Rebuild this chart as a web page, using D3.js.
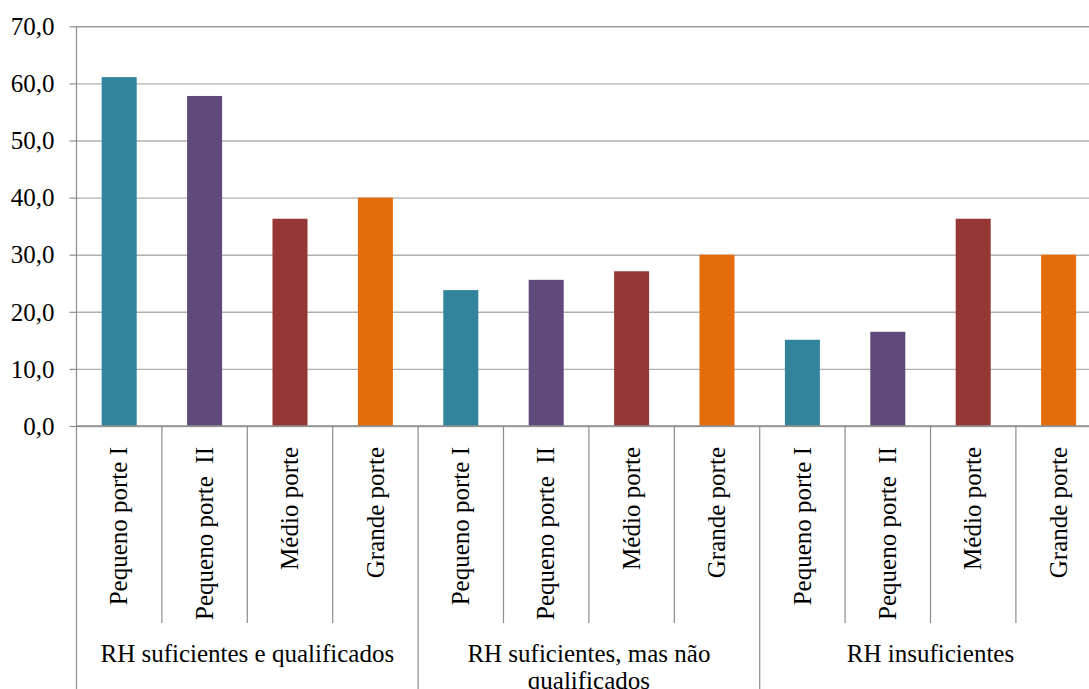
<!DOCTYPE html>
<html lang="pt">
<head>
<meta charset="utf-8">
<script src="https://cdn.jsdelivr.net/npm/d3@7"></script>
<style>
  html, body { margin: 0; padding: 0; background: #fff; }
  svg { display: block; font-family: "Liberation Serif", "Times New Roman", serif; }
  text { fill: #000; white-space: pre; }
</style>
</head>
<body>
<svg id="chart" width="1089" height="689"></svg>
<script>
// Situação dos recursos humanos por porte do município (%)
const groups = [
  "RH suficientes e qualificados",
  "RH suficientes, mas não qualificados",
  "RH insuficientes"
];
const sizes = ["Pequeno porte I", "Pequeno porte  II", "Médio porte", "Grande porte"];
const colors = ["#31849b", "#604a7b", "#953735", "#e46c0a"];

const suficientesQualificados    = [61.1, 57.8, 36.3, 40.0];
const suficientesNaoQualificados = [23.8, 25.6, 27.1, 30.0];
const insuficientes              = [15.1, 16.5, 36.3, 30.0];

const yTicks = [0, 10, 20, 30, 40, 50, 60, 70];

const seriesByGroup = [suficientesQualificados, suficientesNaoQualificados, insuficientes];

// flatten into one row per bar
const rows = [];
groups.forEach((g, gi) => {
  sizes.forEach((s, si) => {
    rows.push({ group: g, gi, size: s, si, value: seriesByGroup[gi][si], key: gi + "-" + si });
  });
});

const svg = d3.select("#chart");
const plotLeft = 76.5, plotRight = 1101.3, plotTop = 26.3, zeroY = 426;
const fontSize = 25;

const x = d3.scaleBand()
  .domain(rows.map(d => d.key))
  .range([plotLeft, plotRight])
  .paddingInner(0)
  .paddingOuter(0);

const y = d3.scaleLinear().domain([0, 70]).range([zeroY, plotTop]);

const fmt = v => d3.format(".1f")(v).replace(".", ",");

// horizontal gridlines
const grid = svg.append("g")
  .attr("transform", `translate(${plotLeft},0)`)
  .call(d3.axisLeft(y).tickValues(yTicks).tickSize(-(plotRight - plotLeft)).tickFormat(""));
grid.select(".domain").remove();
grid.selectAll(".tick line")
  .attr("stroke", "#b0b0b0")
  .attr("stroke-width", 1.4);
grid.selectAll(".tick").filter(d => d === 70).select("line").attr("stroke", "#9a9a9a");

// bars
const barW = x.bandwidth() * 0.41;
svg.append("g").selectAll("rect")
  .data(rows)
  .join("rect")
  .attr("x", d => x(d.key) + (x.bandwidth() - barW) / 2)
  .attr("width", barW)
  .attr("y", d => y(d.value))
  .attr("height", d => y(0) - y(d.value))
  .attr("fill", d => colors[d.si]);

// y axis with ticks and labels
const yAxis = svg.append("g")
  .attr("transform", `translate(${plotLeft},0)`)
  .call(d3.axisLeft(y).tickValues(yTicks).tickSize(7).tickPadding(15).tickFormat(fmt));
yAxis.select(".domain").remove();
yAxis.selectAll(".tick line").attr("stroke", "#8c8c8c").attr("stroke-width", 1.2);
yAxis.selectAll(".tick text")
  .attr("font-size", fontSize)
  .attr("font-family", "Liberation Serif, Times New Roman, serif")
  .attr("fill", "#000")
  .attr("dy", "0.33em");

// axis lines
const axisColor = "#8c8c8c";
svg.append("line")
  .attr("x1", plotLeft).attr("x2", plotLeft)
  .attr("y1", plotTop).attr("y2", 689)
  .attr("stroke", axisColor).attr("stroke-width", 1.2);
svg.append("line")
  .attr("x1", plotLeft).attr("x2", plotRight)
  .attr("y1", zeroY).attr("y2", zeroY)
  .attr("stroke", axisColor).attr("stroke-width", 1.4);

// separators between categories (short) and between groups (long)
const sepBottom = 623;
rows.forEach((d, i) => {
  if (i === 0) return;
  const isGroupEdge = d.si === 0;
  svg.append("line")
    .attr("x1", x(d.key)).attr("x2", x(d.key))
    .attr("y1", zeroY).attr("y2", isGroupEdge ? 689 : sepBottom)
    .attr("stroke", axisColor).attr("stroke-width", 1.2);
});
svg.append("line")
  .attr("x1", plotRight).attr("x2", plotRight)
  .attr("y1", zeroY).attr("y2", 689)
  .attr("stroke", axisColor).attr("stroke-width", 1.2);

// rotated category labels
svg.append("g").selectAll("text")
  .data(rows)
  .join("text")
  .attr("transform", d => `translate(${x(d.key) + x.bandwidth() / 2},447) rotate(-90)`)
  .attr("text-anchor", "end")
  .attr("dy", "0.33em")
  .attr("font-size", fontSize)
  .text(d => d.size);

// group labels, wrapped within the group width
const groupWidth = x.bandwidth() * sizes.length;
const lineHeight = 27;
groups.forEach((g, gi) => {
  const cx = plotLeft + groupWidth * (gi + 0.5);
  const t = svg.append("text")
    .attr("x", cx)
    .attr("y", 662)
    .attr("text-anchor", "middle")
    .attr("font-size", fontSize);
  const words = g.split(" ");
  let line = [];
  let tspan = t.append("tspan").attr("x", cx).attr("dy", 0);
  words.forEach(w => {
    line.push(w);
    tspan.text(line.join(" "));
    if (tspan.node().getComputedTextLength() > groupWidth - 20 && line.length > 1) {
      line.pop();
      tspan.text(line.join(" "));
      line = [w];
      tspan = t.append("tspan").attr("x", cx).attr("dy", lineHeight).text(w);
    }
  });
});
</script>
</body>
</html>
